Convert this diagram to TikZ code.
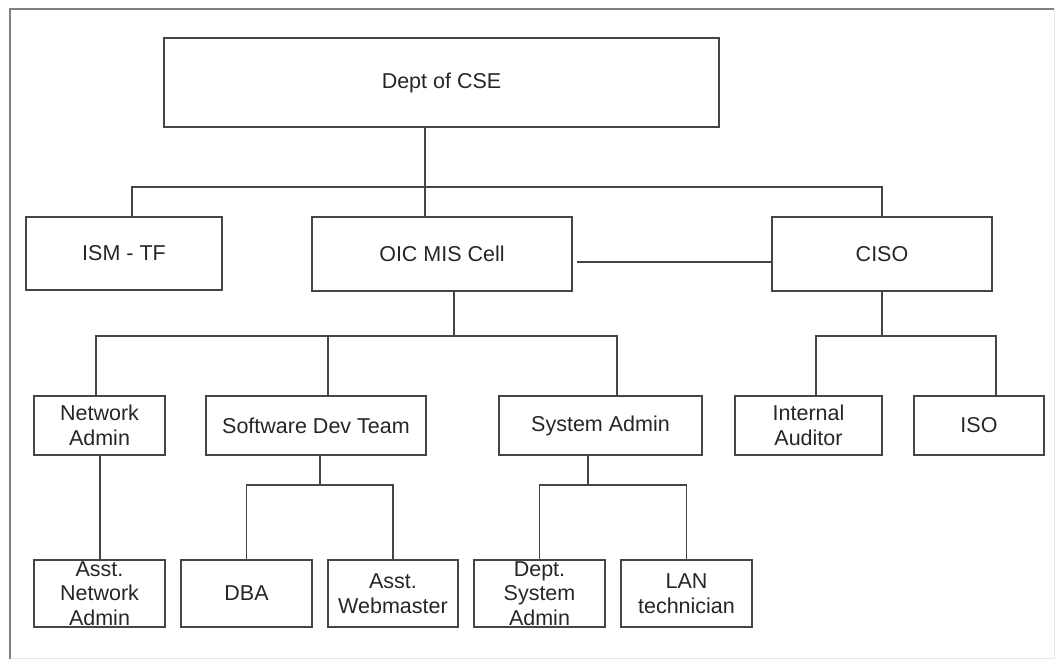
\documentclass[tikz,border=0pt]{standalone}
\usepackage{fontspec}
\setmainfont{Liberation Sans}
\begin{document}
\begin{tikzpicture}[x=1pt,y=-1pt,
  box/.style={draw=linec,line width=1.7pt,rectangle,inner sep=0pt,outer sep=0pt,
    text=txtc,align=center,font=\fontsize{21.5}{24.5}\selectfont},
  link/.style={draw=linec,line width=1.7pt}]
\definecolor{linec}{HTML}{454545}
\definecolor{txtc}{HTML}{262626}
\definecolor{framec}{HTML}{808080}
\definecolor{framelt}{HTML}{E6E6E6}
\useasboundingbox (0,0) rectangle (1055,660);

% outer frame
\draw[framelt,line width=1pt] (10,658.5) -- (1054,658.5) -- (1054,9);
\draw[framec,line width=1.5pt] (10,659) -- (10,9) -- (1054,9);

% boxes
\node[box,minimum width=555pt,minimum height=89pt] (dept) at (441.5,82.5) {Dept of CSE};
\node[box,minimum width=196pt,minimum height=73pt] (ism)  at (124,253.5) {ISM - TF};
\node[box,minimum width=260pt,minimum height=74pt] (oic)  at (442,254) {OIC MIS Cell};
\node[box,minimum width=220pt,minimum height=74pt] (ciso) at (882,254) {CISO};

\node[box,minimum width=131pt,minimum height=59pt] (net) at (99.5,425.5) {Network\\Admin};
\node[box,minimum width=220pt,minimum height=59pt] (sdt) at (316,425.5) {Software Dev Team};
\node[box,minimum width=203pt,minimum height=59pt] (sys) at (600.5,425.5) {System Admin};
\node[box,minimum width=147pt,minimum height=59pt] (aud) at (808.5,425.5) {Internal\\Auditor};
\node[box,minimum width=130pt,minimum height=59pt] (iso) at (979,425.5) {ISO};

\node[box,minimum width=131pt,minimum height=67pt] (anet) at (99.5,593.5) {Asst.\\Network\\Admin};
\node[box,minimum width=131pt,minimum height=67pt] (dba)  at (246.5,593.5) {DBA};
\node[box,minimum width=130pt,minimum height=67pt] (web)  at (393,593.5) {Asst.\\Webmaster};
\node[box,minimum width=131pt,minimum height=67pt] (dsys) at (539.5,593.5) {Dept.\\System\\Admin};
\node[box,minimum width=131pt,minimum height=67pt] (lan)  at (686.5,593.5) {LAN\\technician};

% bus levels
\coordinate (bus1) at (0,187);
\coordinate (bus2) at (0,336);
\coordinate (bus3) at (0,485);

% attachment points
\coordinate (deptS) at ([xshift=-16.5pt]dept.south);
\coordinate (oicN)  at ([xshift=-17pt]oic.north);
\coordinate (ismN)  at ([xshift=8pt]ism.north);
\coordinate (oicS)  at ([xshift=12pt]oic.south);
\coordinate (oicE)  at ([xshift=5pt,yshift=-8pt]oic.east);
\coordinate (cisoW) at ([yshift=-8pt]ciso.west);
\coordinate (netN)  at ([xshift=-3.5pt]net.north);
\coordinate (netS)  at ([xshift=0.5pt]net.south);
\coordinate (sdtN)  at ([xshift=12pt]sdt.north);
\coordinate (sdtS)  at ([xshift=4pt]sdt.south);
\coordinate (sysN)  at ([xshift=16.5pt]sys.north);
\coordinate (sysS)  at ([xshift=-12.5pt]sys.south);
\coordinate (audN)  at ([xshift=7.5pt]aud.north);
\coordinate (isoN)  at ([xshift=17pt]iso.north);

% top level
\draw[link] (deptS) -- (oicN);
\draw[link] (ismN) |- (bus1 -| ciso.north) -- (ciso.north);
\draw[link] (oicE) -- (cisoW);

% OIC MIS Cell branch
\draw[link] (oicS) -- (oicS |- bus2);
\draw[link] (netN) |- (sysN |- bus2) -- (sysN);
\draw[link] (sdtN) -- (sdtN |- bus2);
\draw[link] (netS) -- (netS |- anet.north);

% Software Dev Team branch
\draw[link] (sdtS) -- (sdtS |- bus3);
\draw[link] (dba.north) |- (web.north |- bus3) -- (web.north);

% System Admin branch
\draw[link] (sysS) -- (sysS |- bus3);
\draw[link] (dsys.north) |- (lan.north |- bus3) -- (lan.north);

% CISO branch
\draw[link] (ciso.south) -- (ciso.south |- bus2);
\draw[link] (audN) |- (isoN |- bus2) -- (isoN);
\end{tikzpicture}
\end{document}
